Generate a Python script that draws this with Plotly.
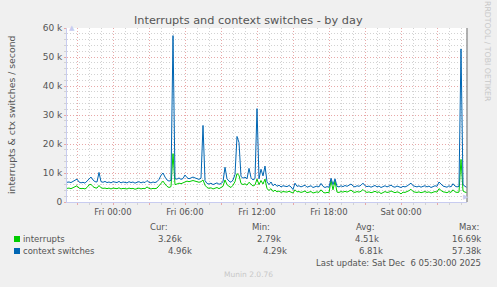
import pandas as pd
import plotly.graph_objects as go

# ---------------- data ----------------
start_time = "2025-12-04 20:10:00"
end_time = "2025-12-06 05:30:00"
step = "10min"

ctx_switches_k = [
    6.8, 6.9, 6.7, 7.0, 7.5, 7.9, 6.9, 6.6, 6.8, 6.5,
    7.2, 8.2, 8.6, 7.6, 7.0, 6.9, 10.2, 7.0, 6.8, 7.1,
    6.7, 6.9, 6.6, 7.0, 6.8, 6.7, 7.1, 6.6, 6.9, 6.8,
    6.6, 7.0, 6.7, 6.9, 6.5, 6.8, 7.0, 6.6, 6.9, 6.7,
    7.4, 6.8, 6.6, 6.9, 6.7, 7.0, 7.8, 9.2, 10.0, 8.6,
    7.6, 7.2, 7.5, 57.38, 8.0, 7.9, 8.3, 7.8, 8.1, 9.3,
    8.4, 8.0, 8.2, 8.6, 8.3, 8.0, 7.8, 8.2, 26.4, 7.4,
    6.4, 6.2, 6.5, 6.0, 6.3, 6.6, 6.1, 6.4, 7.0, 12.0,
    8.0, 7.2, 6.8, 7.6, 9.5, 22.6, 20.5, 8.8, 8.2, 8.6,
    8.0, 11.6, 8.4, 7.6, 8.1, 32.2, 8.0, 11.3, 9.0, 12.4,
    7.0, 6.0, 6.9, 5.6, 6.2, 5.4, 5.8, 5.2, 5.6, 5.5,
    5.3, 5.7, 5.2, 4.3, 6.5, 5.4, 5.6, 5.2, 5.5, 5.8,
    5.1, 5.4, 5.6, 5.0, 5.3, 5.5, 5.2, 6.4, 5.4, 5.0,
    5.3, 5.1, 8.2, 6.0, 8.0, 5.4, 5.2, 5.6, 5.3, 5.7,
    5.4, 5.9, 6.2, 5.5, 5.2, 5.6, 5.4, 5.8, 6.5, 5.6,
    5.3, 5.5, 5.1, 5.4, 5.7, 5.2, 5.5, 5.0, 5.3, 5.6,
    5.2, 5.4, 5.8, 5.3, 5.1, 5.5, 5.3, 5.0, 5.4, 5.2,
    5.5, 6.0, 6.5, 5.6, 5.3, 5.2, 5.5, 5.1, 5.4, 5.6,
    5.2, 5.5, 5.0, 5.3, 5.6, 5.4, 6.9, 6.2, 5.5, 5.3,
    5.1, 5.6, 5.2, 6.3, 5.5, 5.2, 5.4, 52.8, 6.0, 5.4,
    4.96,
]

interrupts_k = [
    4.7, 4.8, 4.6, 4.9, 5.3, 5.6, 4.8, 4.6, 4.7, 4.5,
    5.0, 5.9, 6.1, 5.3, 4.9, 4.8, 5.7, 4.9, 4.7, 4.8,
    4.6, 4.8, 4.5, 4.8, 4.7, 4.6, 4.9, 4.5, 4.7, 4.6,
    4.5, 4.8, 4.6, 4.7, 4.4, 4.6, 4.8, 4.5, 4.7, 4.6,
    5.2, 4.7, 4.5, 4.7, 4.6, 4.8, 5.6, 6.6, 7.2, 6.2,
    5.4, 5.0, 5.3, 16.69, 6.0, 6.2, 6.5, 6.3, 6.6, 7.0,
    7.2, 7.0, 7.3, 7.4, 7.2, 7.0, 6.8, 7.0, 7.6, 5.8,
    5.0, 4.7, 4.9, 4.5, 4.8, 5.0, 4.6, 4.9, 5.4, 7.6,
    6.0, 5.4, 5.0, 5.8, 7.0, 9.8, 9.2, 6.4, 6.0, 6.3,
    5.8, 6.8, 6.1, 5.5, 5.9, 7.9, 6.0, 7.4, 6.2, 7.9,
    4.6, 4.0, 4.6, 3.6, 4.1, 3.5, 3.8, 3.3, 3.6, 3.5,
    3.4, 3.7, 3.3, 3.1, 4.2, 3.5, 3.6, 3.3, 3.5, 3.8,
    3.2, 3.4, 3.6, 3.1, 3.4, 3.5, 3.3, 4.2, 3.4, 3.1,
    3.3, 3.2, 7.4, 4.2, 7.2, 3.4, 3.3, 3.6, 3.4, 3.7,
    3.4, 3.8, 4.1, 3.5, 3.3, 3.6, 3.4, 3.7, 4.3, 3.6,
    3.3, 3.5, 3.2, 3.4, 3.7, 3.3, 3.5, 2.9, 3.3, 3.6,
    3.3, 3.4, 3.8, 3.4, 3.2, 3.5, 3.3, 2.79, 3.4, 3.3,
    3.5, 3.9, 4.4, 3.6, 3.4, 3.3, 3.5, 3.2, 3.4, 3.6,
    3.3, 3.5, 3.1, 3.4, 3.6, 3.4, 4.6, 4.0, 3.5, 3.4,
    3.2, 3.6, 3.3, 4.2, 3.5, 3.3, 3.4, 14.7, 3.8, 3.4,
    3.26,
]

series_names = ["interrupts", "context switches"]
series_colors = ["#00CC00", "#0066B3"]

x_tick_times = ["2025-12-04 21:00", "2025-12-05 00:00", "2025-12-05 03:00",
                "2025-12-05 06:00", "2025-12-05 09:00", "2025-12-05 12:00",
                "2025-12-05 15:00", "2025-12-05 18:00", "2025-12-05 21:00",
                "2025-12-06 00:00", "2025-12-06 03:00"]
x_tick_labels = ["", "Fri 00:00", "", "Fri 06:00", "", "Fri 12:00", "",
                 "Fri 18:00", "", "Sat 00:00", ""]
y_tick_values = [0, 10000, 20000, 30000, 40000, 50000, 60000]
y_tick_labels = ["0", "10 k", "20 k", "30 k", "40 k", "50 k", "60 k"]

cur_vals = ["3.26k", "4.96k"]
min_vals = ["2.79k", "4.29k"]
avg_vals = ["4.51k", "6.81k"]
max_vals = ["16.69k", "57.38k"]

title = "Interrupts and context switches - by day"
y_title = "interrupts & ctx switches / second"
last_update = "Last update: Sat Dec  6 05:30:00 2025"
side_text = "RRDTOOL / TOBI OETIKER"
footer = "Munin 2.0.76"

# ---------------- figure ----------------
W, H = 497, 287
L, R, T, B = 67, 30, 28, 85
PW, PH = W - L - R, H - T - B

def px(x):
    return (x - L) / PW

def py(y):
    return (H - B - y) / PH

times = pd.date_range(start_time, end_time, freq=step)
FONT = "DejaVu Sans"
TXT = "#555555"

fig = go.Figure()
for name, vals, col in zip(series_names, [interrupts_k, ctx_switches_k], series_colors):
    fig.add_trace(go.Scatter(x=times, y=[v * 1000 for v in vals], mode="lines",
                             name=name, line=dict(color=col, width=1)))

fig.update_layout(
    width=W, height=H,
    margin=dict(l=L, r=R, t=T, b=B),
    paper_bgcolor="#F0F0F0", plot_bgcolor="#FFFFFF",
    showlegend=False,
    font=dict(family=FONT, size=8.5, color=TXT),
)
fig.update_xaxes(
    range=[start_time, end_time],
    tickmode="array", tickvals=x_tick_times, ticktext=x_tick_labels,
    showgrid=True, gridcolor="#E8A8A8", griddash="1px,2px", gridwidth=1,
    ticks="outside", ticklen=2, tickcolor="#E8A8A8",
    minor=dict(tickmode="linear", tick0="2025-12-04 00:00", dtick=3600000,
               showgrid=True, gridcolor="#D2D2D2", griddash="1px,2px",
               ticks="outside", ticklen=2, tickcolor="#D2D2D2"),
    showline=True, linecolor="#C8CCF0", linewidth=1,
    tickfont=dict(size=8.5, color=TXT), zeroline=False,
)
fig.update_yaxes(
    range=[0, 60000],
    tickmode="array", tickvals=y_tick_values, ticktext=y_tick_labels,
    showgrid=True, gridcolor="#E8A8A8", griddash="1px,2px", gridwidth=1,
    ticks="outside", ticklen=2, tickcolor="#E8A8A8",
    minor=dict(tickmode="linear", tick0=0, dtick=2000,
               showgrid=True, gridcolor="#D2D2D2", griddash="1px,2px",
               ticks="outside", ticklen=2, tickcolor="#D2D2D2"),
    showline=True, linecolor="#C8CCF0", linewidth=1,
    tickfont=dict(size=9, color=TXT), zeroline=False,
)

# right-hand boundary line
fig.add_shape(type="line", xref="paper", yref="paper", x0=1, x1=1, y0=0, y1=1,
              line=dict(color="#999999", width=1.5))
# axis arrows
fig.add_annotation(xref="paper", yref="paper", x=px(67), y=py(22), text="▲",
                   showarrow=False, font=dict(size=7, color="#C8CCF0"))
fig.add_annotation(xref="paper", yref="paper", x=px(471), y=py(203), text="▶",
                   showarrow=False, font=dict(size=7, color="#C8CCF0"))

def txt(x, y, s, anchor="left", size=8.5, color=TXT, angle=0):
    fig.add_annotation(xref="paper", yref="paper", x=px(x), y=py(y), text=s,
                       showarrow=False, xanchor=anchor, yanchor="middle",
                       textangle=angle, font=dict(family=FONT, size=size, color=color))

txt(248.5, 20, title, anchor="center", size=11.3)
txt(11, 115, y_title, anchor="center", size=9.3, angle=-90)
txt(488, 51, side_text, anchor="center", size=7.8, color="#C8C8C8", angle=90)

# legend
rows_y = [239, 251]
for ry, col, name in zip(rows_y, series_colors, series_names):
    fig.add_shape(type="rect", xref="paper", yref="paper",
                  x0=px(14), x1=px(20), y0=py(ry + 3), y1=py(ry - 3),
                  fillcolor=col, line=dict(width=0))
    txt(21, ry, name)

txt(148, 227, "Cur:")
txt(250, 227, "Min:")
txt(354, 227, "Avg:")
txt(457, 227, "Max:")
for i, ry in enumerate(rows_y):
    txt([184, 194][i], ry, cur_vals[i], anchor="right")
    txt([283, 289][i], ry, min_vals[i], anchor="right")
    txt([381, 385][i], ry, avg_vals[i], anchor="right")
    txt(483, ry, max_vals[i], anchor="right")
txt(483, 263, last_update.replace("  ", "&nbsp; "), anchor="right")
txt(248, 274, footer, anchor="center", size=7.5, color="#C8C8C8")

fig.write_html("out.html")
